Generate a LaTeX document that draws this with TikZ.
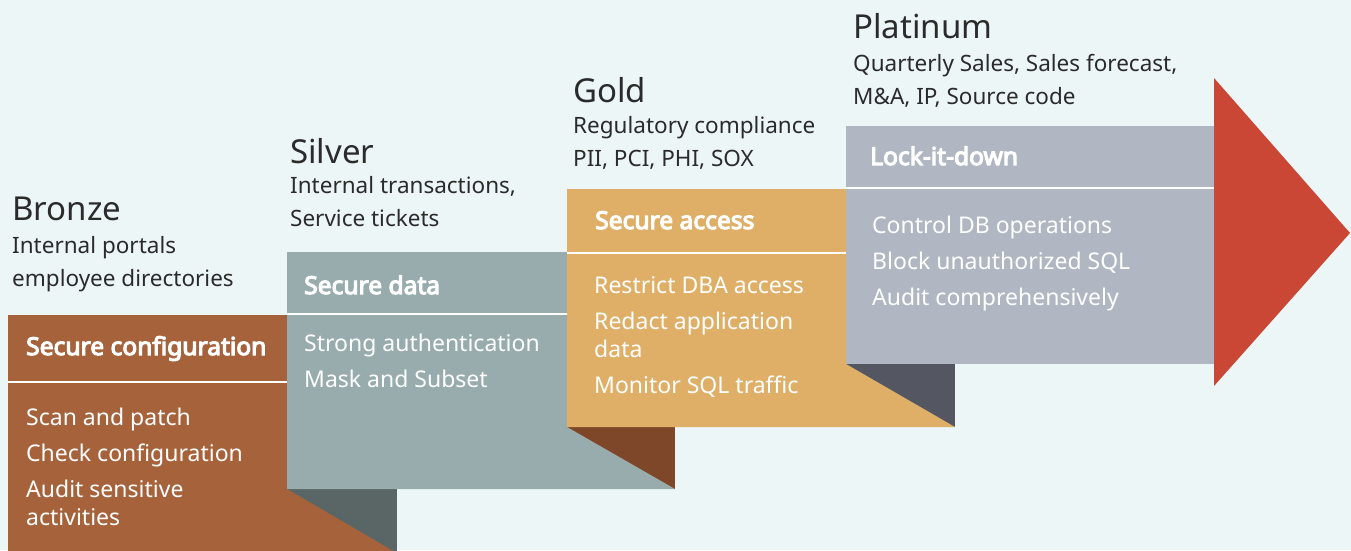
\documentclass[tikz,border=0pt]{standalone}
\usepackage{fontspec}
\setmainfont{Noto Sans}
\newfontfamily\hdrfont{Noto Sans}[FakeBold=4.5]
\definecolor{bgc}{HTML}{EDF6F7}
\definecolor{bronzec}{HTML}{A6633B}
\definecolor{silverc}{HTML}{98ACAD}
\definecolor{goldc}{HTML}{DFAF67}
\definecolor{platc}{HTML}{B0B7C2}
\definecolor{redc}{HTML}{C94734}
\definecolor{shsilver}{HTML}{5A6665}
\definecolor{shgold}{HTML}{7E4729}
\definecolor{shplat}{HTML}{545762}
\definecolor{txtc}{HTML}{2B2B2B}
\tikzset{
  ttl/.style={anchor=base west, inner sep=0pt, text=txtc, font=\fontsize{33}{33}\selectfont},
  subt/.style={anchor=base west, inner sep=0pt, text=txtc, align=left, font=\fontsize{22.5}{32.5}\selectfont},
  hdr/.style={anchor=base west, inner sep=0pt, text=white, font=\hdrfont\fontsize{24.6}{24.6}\selectfont},
  bdy/.style={anchor=base west, inner sep=0pt, text=white, align=left, font=\fontsize{23}{36}\selectfont},
  divl/.style={draw=white, line width=2.5pt},
}
\begin{document}
\begin{tikzpicture}[x=1pt,y=-1pt]
\useasboundingbox (0,0) rectangle (1351,550);
\fill[bgc] (0,0) rectangle (1351,550);
\clip (0,0) rectangle (1351,550);
% bronze step
\fill[shsilver] (287,489) rectangle (397,552);
\fill[bronzec] (8,315) -- (287,315) -- (287,489) -- (395,552) -- (8,552) -- cycle;
\draw[divl] (8,382) -- (287,382);
% silver step
\fill[shgold] (567,427) rectangle (675,489);
\fill[silverc] (287,252) -- (567,252) -- (567,427) -- (675,489) -- (287,489) -- cycle;
\draw[divl] (287,314) -- (567,314);
% gold step
\fill[shplat] (846,364) rectangle (955,427);
\fill[goldc] (567,189) -- (846,189) -- (846,364) -- (955,427) -- (567,427) -- cycle;
\draw[divl] (567,253) -- (846,253);
% platinum step
\fill[platc] (846,126) rectangle (1214,364);
\draw[divl] (846,188) -- (1214,188);
% arrow head
\fill[redc] (1214,78) -- (1350,233) -- (1214,386) -- cycle;
% titles (multi-line nodes: base = last line)
\node[ttl] (tb) at (12,220) {Bronze};
\node[subt] (sb) at (12,286) {Internal portals\\employee directories};
\node[ttl] (ts) at (290,163) {Silver};
\node[subt] (ss) at (290,226) {Internal transactions,\\Service tickets};
\node[ttl] (tg) at (573,102) {Gold};
\node[subt] (sg) at (573,166) {Regulatory compliance\\PII, PCI, PHI, SOX};
\node[ttl] (tp) at (853,38) {Platinum};
\node[subt] (sp) at (853,104) {Quarterly Sales, Sales forecast,\\M\&A, IP, Source code};
% box headers
\node[hdr] (hb) at (26,355) {Secure configuration};
\node[hdr] (hs) at (304,294) {Secure data};
\node[hdr] (hg) at (595,229) {Secure access};
\node[hdr] (hp) at (870,165) {Lock-it-down};
% box bodies
\node[bdy] (bb) at (26,525) {Scan and patch\\Check configuration\\Audit sensitive\\[-8pt]activities};
\node[bdy] (bs) at (304,387) {Strong authentication\\Mask and Subset};
\node[bdy] (bg) at (594,393) {Restrict DBA access\\Redact application\\[-8pt]data\\Monitor SQL traffic};
\node[bdy] (bp) at (872,305) {Control DB operations\\Block unauthorized SQL\\Audit comprehensively};
\end{tikzpicture}
\end{document}
